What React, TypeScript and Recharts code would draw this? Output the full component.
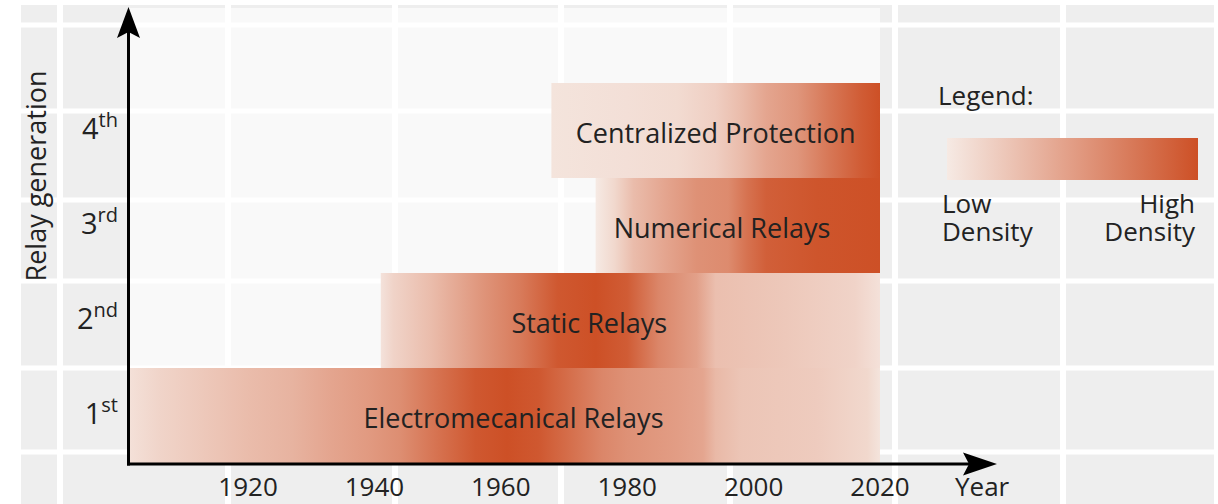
import React from "react";
import { BarChart, Bar, XAxis, YAxis, Cell, LabelList } from "recharts";

const generations = ["1st", "2nd", "3rd", "4th"];
const relayTypes = [
  "Electromecanical Relays",
  "Static Relays",
  "Numerical Relays",
  "Centralized Protection",
];
const startYears = [1901, 1941, 1975, 1968];
const endYears = [2020, 2020, 2020, 2020];
const labelYears = [1962, 1974, 1995, 1994];
const yearTicks = [1920, 1940, 1960, 1980, 2000, 2020];

// usage density along each bar, [year, 0..1]
const electroDensity = [
  [1901, 0.06], [1906, 0.14], [1913, 0.22], [1920, 0.3], [1927, 0.36],
  [1933, 0.45], [1939, 0.52], [1944, 0.6], [1950, 0.78], [1956, 0.95],
  [1961, 1.0], [1966, 0.95], [1971, 0.8], [1976, 0.65], [1980, 0.58],
  [1988, 0.5], [1992, 0.45], [1994, 0.32], [1998, 0.24], [2010, 0.2],
  [2018, 0.12], [2020, 0.04],
];
const staticDensity = [
  [1941, 0.05], [1943, 0.15], [1949, 0.3], [1957, 0.55], [1963, 0.72],
  [1969, 0.95], [1975, 1.0], [1980, 0.92], [1985, 0.65], [1991, 0.48],
  [1994, 0.28], [2005, 0.22], [2016, 0.15], [2020, 0.06],
];
const numericalDensity = [
  [1975, 0.0], [1978, 0.12], [1981, 0.3], [1986, 0.45], [1991, 0.58],
  [1996, 0.62], [1999, 0.78], [2002, 0.9], [2010, 0.97], [2020, 1.0],
];
const centralizedDensity = [
  [1968, 0.04], [1980, 0.07], [1988, 0.1], [1994, 0.18], [1998, 0.3],
  [2002, 0.45], [2007, 0.55], [2012, 0.75], [2017, 0.92], [2020, 1.0],
];
const densities = [electroDensity, staticDensity, numericalDensity, centralizedDensity];
const legendDensity = [0, 0.25, 0.5, 0.75, 1];

const LOW = [246, 234, 228];
const HIGH = [205, 80, 38];
const densityColor = (d: number) => {
  const c = LOW.map((l, k) => Math.round(l + (HIGH[k] - l) * d));
  return `rgb(${c[0]},${c[1]},${c[2]})`;
};

const data = generations.map((gen, i) => ({
  gen,
  name: relayTypes[i],
  range: [startYears[i], endYears[i]],
}));

const FONT = "'Open Sans', sans-serif";
const W = 1218;
const H = 504;

// decorative backdrop tiles
const bgCols = [60, 228, 395, 561, 730, 895, 1063];
const bgRows = [25, 111, 200, 281, 368, 452];

const XTick = (props: any) => {
  const { x, y, payload } = props;
  return (
    <text x={x} y={y} dy={33} textAnchor="middle" fontSize={26} fill="#222" fontFamily={FONT}>
      {payload.value}
    </text>
  );
};

const YTick = (props: any) => {
  const { y, payload } = props;
  const v = String(payload.value);
  return (
    <text x={118} y={y + 8} textAnchor="end" fill="#222" fontFamily={FONT}>
      <tspan fontSize={29}>{v.slice(0, 1)}</tspan>
      <tspan fontSize={20} dy={-12}>{v.slice(1)}</tspan>
    </text>
  );
};

const BarLabel = (props: any) => {
  const { x, y, width, height, value } = props;
  const i = relayTypes.indexOf(value);
  const cx = x + (width * (labelYears[i] - startYears[i])) / (endYears[i] - startYears[i]);
  return (
    <text
      x={cx}
      y={y + height / 2 + 2}
      textAnchor="middle"
      dominantBaseline="central"
      fontSize={27}
      fill="#222"
      fontFamily={FONT}
    >
      {value}
    </text>
  );
};

export default function App() {
  return (
    <div style={{ position: "absolute", left: 0, top: 0, width: W, height: H, background: "#fff" }}>
      <svg width={W} height={H} style={{ position: "absolute", left: 0, top: 0 }}>
        <rect x={21} y={5} width={1193} height={H - 5} fill="#eeeeee" />
        {bgCols.map((c) => (
          <rect key={"c" + c} x={c - 3} y={5} width={6} height={H} fill="#fff" />
        ))}
        {bgRows.map((r) => (
          <rect key={"r" + r} x={21} y={r - 2.5} width={1193} height={5} fill="#fff" />
        ))}
        <rect x={128} y={8} width={752} height={455} fill="#fff" opacity={0.65} />
      </svg>

      <div style={{ position: "absolute", left: 0, top: 0 }}>
        <BarChart
          width={W}
          height={H}
          data={data}
          layout="vertical"
          margin={{ top: 83, right: 338, bottom: 0, left: 0 }}
          barCategoryGap={0}
          barGap={0}
        >
          <defs>
            {densities.map((profile, i) => (
              <linearGradient key={i} id={`relay-grad-${i}`} x1="0" y1="0" x2="1" y2="0">
                {profile.map(([yr, d]) => (
                  <stop
                    key={yr}
                    offset={(yr - startYears[i]) / (endYears[i] - startYears[i])}
                    stopColor={densityColor(d)}
                  />
                ))}
              </linearGradient>
            ))}
          </defs>
          <XAxis
            type="number"
            domain={[1901, 2020]}
            ticks={yearTicks}
            interval={0}
            allowDataOverflow
            axisLine={false}
            tickLine={false}
            tickSize={0}
            tickMargin={0}
            height={41}
            tick={XTick}
          />
          <YAxis
            type="category"
            dataKey="gen"
            reversed
            width={128}
            axisLine={false}
            tickLine={false}
            tick={YTick}
          />
          <Bar dataKey="range" isAnimationActive={false}>
            {data.map((d, i) => (
              <Cell key={d.gen} fill={`url(#relay-grad-${i})`} />
            ))}
            <LabelList dataKey="name" content={BarLabel} />
          </Bar>
        </BarChart>
      </div>

      <svg width={W} height={H} style={{ position: "absolute", left: 0, top: 0, pointerEvents: "none" }}>
        <defs>
          <linearGradient id="legend-grad" x1="0" y1="0" x2="1" y2="0">
            {legendDensity.map((d) => (
              <stop key={d} offset={d} stopColor={densityColor(d)} />
            ))}
          </linearGradient>
        </defs>
        {/* axes with arrow heads */}
        <line x1={128.5} y1={465.5} x2={128.5} y2={30} stroke="#000" strokeWidth={3} />
        <polygon points="128.5,7 140,38 128.5,32 117,38" fill="#000" />
        <line x1={127} y1={464} x2={975} y2={464} stroke="#000" strokeWidth={3} />
        <polygon points="997,464 963,452.5 969,464 963,475.5" fill="#000" />
        <text x={955} y={496} fontSize={26} fill="#222" fontFamily={FONT}>Year</text>
        <text
          transform="translate(46,176) rotate(-90)"
          textAnchor="middle"
          fontSize={27}
          fill="#222"
          fontFamily={FONT}
        >
          Relay generation
        </text>

        {/* legend */}
        <text x={938} y={105} fontSize={26} fill="#222" fontFamily={FONT}>Legend:</text>
        <rect x={947} y={138} width={251} height={42} fill="url(#legend-grad)" />
        <text fontSize={26} fill="#222" fontFamily={FONT}>
          <tspan x={942} y={213}>Low</tspan>
          <tspan x={942} dy={28}>Density</tspan>
        </text>
        <text textAnchor="end" fontSize={26} fill="#222" fontFamily={FONT}>
          <tspan x={1195} y={213}>High</tspan>
          <tspan x={1195} dy={28}>Density</tspan>
        </text>
      </svg>
    </div>
  );
}
